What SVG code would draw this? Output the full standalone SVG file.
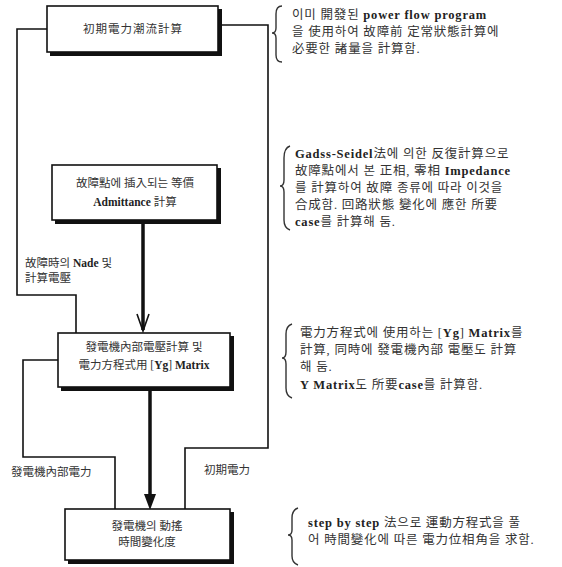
<svg xmlns="http://www.w3.org/2000/svg" width="562" height="567" viewBox="0 0 562 567">
<style>
.box{fill:#fff;stroke:#111;stroke-width:1.6}
.sh{fill:#111}
.t{font-family:"Liberation Serif","Noto Sans CJK KR",serif;font-size:11.5px;fill:#333}
.n{font-size:12.5px;letter-spacing:0.8px}
.c{text-anchor:middle}
.b{font-weight:bold;fill:#222}
.ln{fill:none;stroke:#111;stroke-width:1.6}
.thick{fill:none;stroke:#111;stroke-width:3.5}
.br{fill:none;stroke:#333;stroke-width:1.4}
</style>
<rect width="562" height="567" fill="#fff"/>
<g id="connectors">
<polyline class="ln" points="47,29 17,29 17,295 76,295 76,333"/>
<polyline class="ln" points="218,25 268,25 268,448 185,448 185,509"/>
<polyline class="ln" points="58,360 23,360 23,457 115,457 115,509"/>
<line class="thick" x1="143" y1="220" x2="143" y2="330"/>
<polyline class="ln" points="137,314 143,331 149,314" stroke-width="2"/>
<line class="thick" x1="150" y1="390" x2="150" y2="496"/>
<polygon points="144,494 156,494 150,510" fill="#111"/>
</g>
<g id="n1">
<rect class="sh" x="50" y="9" width="172" height="47"/>
<rect class="box" x="47" y="6" width="171" height="46"/>
<text class="t c" x="133" y="33" letter-spacing="1">初期電力潮流計算</text>
</g>
<g id="n2">
<rect class="sh" x="55" y="168" width="166" height="56"/>
<rect class="box" x="52" y="165" width="165" height="55"/>
<text class="t c" x="135" y="187">故障點에 插入되는 等價</text>
<text class="t c" x="135" y="206"><tspan class="b">Admittance</tspan> 計算</text>
</g>
<g id="n3">
<rect class="sh" x="61" y="336" width="173" height="55"/>
<rect class="box" x="58" y="333" width="172" height="54"/>
<text class="t c" x="144" y="351">發電機內部電壓計算 및</text>
<text class="t c" x="144" y="369">電力方程式用 [<tspan class="b">Yg</tspan>] <tspan class="b">Matrix</tspan></text>
</g>
<g id="n4">
<rect class="sh" x="68" y="512" width="166" height="52"/>
<rect class="box" x="65" y="509" width="165" height="51"/>
<text class="t c" x="147" y="530">發電機의 動搖</text>
<text class="t c" x="147" y="546">時間變化度</text>
</g>
<g id="labels">
<text class="t" x="25" y="267">故障時의 <tspan class="b">Nade</tspan> 및</text>
<text class="t" x="25" y="282">計算電壓</text>
<text class="t" x="11" y="476">發電機內部電力</text>
<text class="t" x="204" y="474">初期電力</text>
</g>
<g id="notes">
<path class="br" d="M282,6 Q276,6 276,14 L276,28 Q276,33 272,33 Q276,33 276,38 L276,55 Q276,62 282,62"/>
<text class="t n" x="292" y="19">이미 開發된 <tspan class="b">power flow program</tspan></text>
<text class="t n" x="292" y="36">을 使用하여 故障前 定常狀態計算에</text>
<text class="t n" x="292" y="53">必要한 諸量을 計算함.</text>
<path class="br" d="M290,146 Q284,148 284,158 L284,180 Q284,186 280,186 Q284,186 284,192 L284,220 Q284,228 290,230"/>
<text class="t n" x="295" y="158"><tspan class="b">Gadss-Seidel</tspan>法에 의한 反復計算으로</text>
<text class="t n" x="295" y="175">故障點에서 본 正相, 零相 <tspan class="b">Impedance</tspan></text>
<text class="t n" x="295" y="192">를 計算하여 故障 종류에 따라 이것을</text>
<text class="t n" x="295" y="209">合成함. 回路狀態 變化에 應한 所要</text>
<text class="t n" x="295" y="226"><tspan class="b">case</tspan>를 計算해 둠.</text>
<path class="br" d="M292,324 Q286,326 286,334 L286,352 Q286,358 282,358 Q286,358 286,364 L286,388 Q286,396 292,398"/>
<text class="t n" x="300" y="337">電力方程式에 使用하는 [<tspan class="b">Yg</tspan>] <tspan class="b">Matrix</tspan>를</text>
<text class="t n" x="300" y="354">計算, 同時에 發電機內部 電壓도 計算</text>
<text class="t n" x="300" y="371">해 둠.</text>
<text class="t n" x="300" y="389"><tspan class="b">Y Matrix</tspan>도 所要<tspan class="b">case</tspan>를 計算함.</text>
<path class="br" d="M298,508 Q292,510 292,518 L292,530 Q292,535 288,535 Q292,535 292,540 L292,556 Q292,563 298,565"/>
<text class="t n" x="308" y="527"><tspan class="b">step by step</tspan> 法으로 運動方程式을 풀</text>
<text class="t n" x="308" y="544">어 時間變化에 따른 電力位相角을 求함.</text>
</g>
</svg>
